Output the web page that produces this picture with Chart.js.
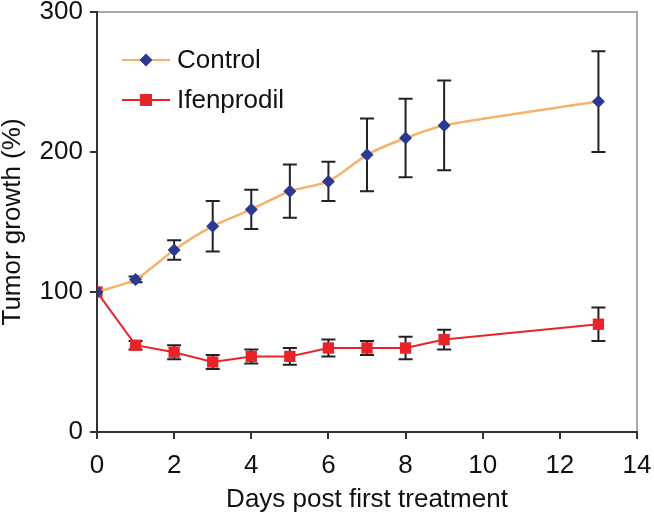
<!DOCTYPE html>
<html><head><meta charset="utf-8">
<script src="https://cdn.jsdelivr.net/npm/chart.js@4/dist/chart.umd.min.js"></script>
<style>html,body{margin:0;padding:0;background:#fff;}#wrap{width:654px;height:515px;}</style>
</head><body><div id="wrap"><canvas id="c" width="654" height="515"></canvas></div>
<script>
const days = [0, 1, 2, 3, 4, 5, 6, 7, 8, 9, 13];
const controlMean = [100, 109, 130, 147, 159, 172, 179, 198, 210, 219, 236];
const controlErr  = [0, 2, 7, 18, 14, 19, 14, 26, 28, 32, 36];
const ifenMean = [100, 62, 57, 50, 54, 54, 60, 60, 60, 66, 77];
const ifenErr  = [0, 3, 5, 5, 5, 6, 6, 5, 8, 7, 12];
const xTicks = [0, 2, 4, 6, 8, 10, 12, 14];
const yTicks = [0, 100, 200, 300];
const seriesNames = ['Control', 'Ifenprodil'];

const FONT = '"Liberation Sans", Arial, sans-serif';
const FS = 26;
const errs = [controlErr, ifenErr];

const errorBars = {
  id: 'errorBars',
  beforeDatasetsDraw(chart) {
    const ctx = chart.ctx, xs = chart.scales.x, ys = chart.scales.y;
    ctx.save();
    ctx.strokeStyle = '#222';
    ctx.lineWidth = 2;
    chart.data.datasets.forEach((ds, i) => {
      ds.data.forEach((p, j) => {
        const e = errs[i][j];
        if (!e) return;
        const x = xs.getPixelForValue(p.x);
        const yt = ys.getPixelForValue(p.y + e);
        const yb = ys.getPixelForValue(p.y - e);
        ctx.beginPath();
        ctx.moveTo(x, yt); ctx.lineTo(x, yb);
        ctx.moveTo(x - 7, yt); ctx.lineTo(x + 7, yt);
        ctx.moveTo(x - 7, yb); ctx.lineTo(x + 7, yb);
        ctx.stroke();
      });
    });
    ctx.restore();
  }
};

const frame = {
  id: 'frame',
  beforeDraw(chart) {
    const ctx = chart.ctx, a = chart.chartArea;
    ctx.save();
    ctx.fillStyle = '#fff';
    ctx.fillRect(0, 0, chart.width, chart.height);
    ctx.strokeStyle = '#aaaaaa';
    ctx.lineWidth = 2;
    ctx.beginPath();
    ctx.moveTo(a.left, a.top); ctx.lineTo(a.right, a.top); ctx.lineTo(a.right, a.bottom);
    ctx.stroke();
    ctx.restore();
  },
  afterDraw(chart) {
    const ctx = chart.ctx;
    ctx.save();
    const items = [
      {y: 60, color: '#F7B26A', pt: 'diamond', mc: '#2B3990', name: seriesNames[0]},
      {y: 100, color: '#E8242B', pt: 'square', mc: '#E8242B', name: seriesNames[1]}
    ];
    items.forEach(it => {
      ctx.strokeStyle = it.color; ctx.lineWidth = 2;
      ctx.beginPath(); ctx.moveTo(122, it.y); ctx.lineTo(170, it.y); ctx.stroke();
      ctx.fillStyle = it.mc;
      ctx.beginPath();
      if (it.pt === 'diamond') {
        ctx.moveTo(146, it.y - 6.5); ctx.lineTo(152.5, it.y); ctx.lineTo(146, it.y + 6.5); ctx.lineTo(139.5, it.y); ctx.closePath();
      } else {
        ctx.rect(140, it.y - 6, 12, 12);
      }
      ctx.fill();
      ctx.fillStyle = '#111';
      ctx.font = FS + 'px ' + FONT;
      ctx.textBaseline = 'middle';
      ctx.textAlign = 'left';
      ctx.fillText(it.name, 177, it.y + 1);
    });
    ctx.restore();
  }
};

new Chart(document.getElementById('c'), {
  type: 'line',
  data: {
    datasets: [
      {
        label: seriesNames[0],
        data: days.map((d, i) => ({x: d, y: controlMean[i]})),
        borderColor: '#F7B26A', borderWidth: 2.5,
        pointStyle: 'rectRot', pointRadius: 6.5, pointBackgroundColor: '#2B3990', pointBorderColor: '#2B3990', pointBorderWidth: 0,
        tension: 0.25
      },
      {
        label: seriesNames[1],
        data: days.map((d, i) => ({x: d, y: ifenMean[i]})),
        borderColor: '#E8242B', borderWidth: 2,
        pointStyle: 'rect', pointRadius: 8, pointBackgroundColor: '#E8242B', pointBorderColor: '#E8242B', pointBorderWidth: 0,
        tension: 0
      }
    ]
  },
  options: {
    responsive: false, animation: false, devicePixelRatio: 1,
    layout: {padding: {top: 12, right: 17, left: 0, bottom: 0}},
    plugins: {legend: {display: false}, tooltip: {enabled: false}},
    scales: {
      x: {
        type: 'linear', min: 0, max: 14,
        afterBuildTicks: s => { s.ticks = xTicks.map(v => ({value: v})); },
        afterFit: s => { s.height = 83; s.paddingLeft = 0; s.paddingRight = 0; },
        grid: {drawOnChartArea: false, drawTicks: true, tickLength: 7, color: '#333', lineWidth: 2},
        border: {display: true, color: '#333', width: 2},
        ticks: {color: '#111', font: {size: FS, family: FONT, lineHeight: 1}, padding: 14, maxRotation: 0},
        title: {display: true, text: 'Days post first treatment', color: '#111', font: {size: FS, family: FONT, lineHeight: 1}, padding: {top: 4, bottom: 2}}
      },
      y: {
        type: 'linear', min: 0, max: 300,
        afterBuildTicks: s => { s.ticks = yTicks.map(v => ({value: v})); },
        afterFit: s => { s.width = 97; s.paddingTop = 0; s.paddingBottom = 0; },
        grid: {drawOnChartArea: false, drawTicks: true, tickLength: 7, color: '#333', lineWidth: 2},
        border: {display: true, color: '#333', width: 2},
        ticks: {color: '#111', font: {size: FS, family: FONT, lineHeight: 1}, padding: 7},
        title: {display: true, text: 'Tumor growth (%)', color: '#111', font: {size: FS, family: FONT, lineHeight: 1}, padding: {top: 0, bottom: 0}}
      }
    }
  },
  plugins: [frame, errorBars]
});
</script></body></html>
